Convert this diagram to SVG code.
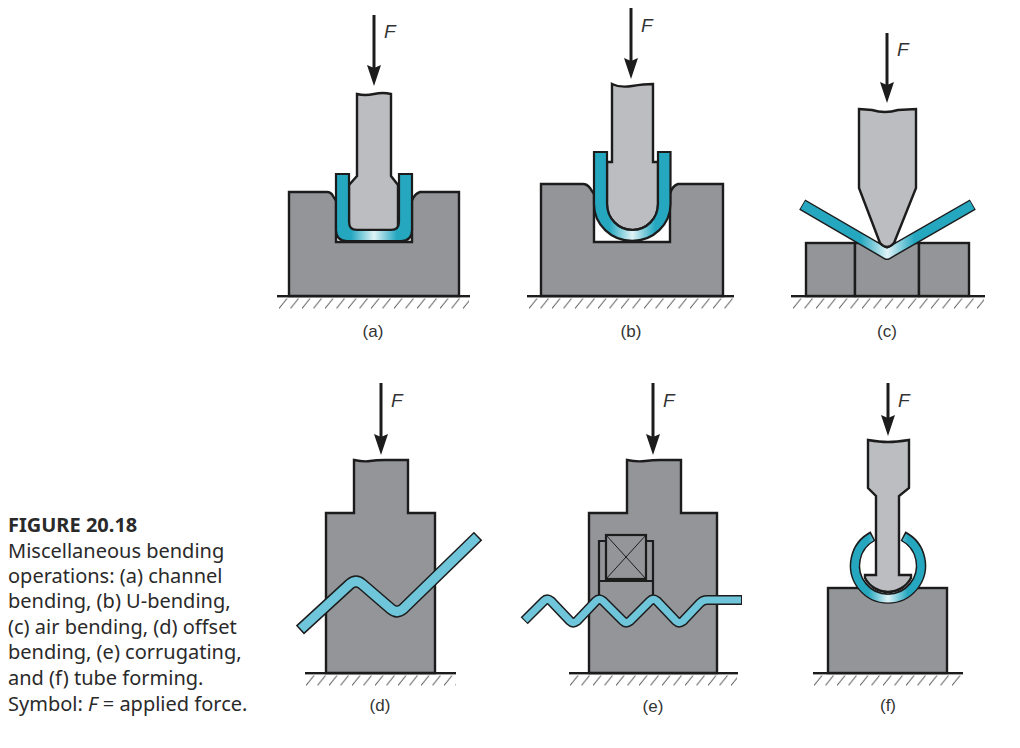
<svg xmlns="http://www.w3.org/2000/svg" width="1020" height="748" viewBox="0 0 1020 748">
<style>
.punch{fill:#bcbdc0;stroke:#1c1c1c;stroke-width:2.4;stroke-linejoin:miter}
.die{fill:#939598;stroke:#1c1c1c;stroke-width:2.4;stroke-linejoin:miter}
.thin{fill:none;stroke:#1c1c1c;stroke-width:1}
.thick{fill:none;stroke:#1c1c1c;stroke-width:2.2}
.partfill{stroke:#1c1c1c;stroke-width:2.2;fill:url(#wide)}
.edge{fill:none;stroke:#1c1c1c;stroke-linejoin:round}
.core{fill:none;stroke-linejoin:round}
.arrow{stroke:#1c1c1c;stroke-width:3;marker-end:url(#head)}
.force{font:italic 19px "Liberation Sans",Arial,sans-serif;fill:#333}
.label{font:17px "Liberation Sans",Arial,sans-serif;fill:#333;text-anchor:middle}
.cap{font:20px "Noto Sans",sans-serif;fill:#2a2a2a}
.captitle{font:bold 20px "Noto Sans",sans-serif;fill:#2a2a2a}
</style>
<defs>
<linearGradient id="wide" x1="0" x2="1" y1="0" y2="0"><stop offset=".2" stop-color="#25a7c0"/><stop offset=".5" stop-color="#dff3f7"/><stop offset=".8" stop-color="#25a7c0"/></linearGradient>
<linearGradient id="narrow" x1="0" x2="1" y1="0" y2="0"><stop offset=".34" stop-color="#25a7c0"/><stop offset=".5" stop-color="#dff3f7"/><stop offset=".66" stop-color="#25a7c0"/></linearGradient>
<pattern id="hatch" patternUnits="userSpaceOnUse" width="11.5" height="12"><path d="M0,11.5 L8,1.5" stroke="#555" stroke-width="1" fill="none"/></pattern>
<marker id="head" markerUnits="userSpaceOnUse" markerWidth="22" markerHeight="16" viewBox="0 0 22 16" refX="10" refY="8" orient="auto"><path d="M0,1 L21,8 L0,15 L3,8 Z" fill="#1c1c1c"/></marker>
</defs>
<rect width="1020" height="748" fill="#fff"/>

<g id="connectors">
<line class="arrow" x1="374" y1="15" x2="374" y2="75"/>
<line class="arrow" x1="631" y1="8" x2="631" y2="68"/>
<line class="arrow" x1="887" y1="33" x2="887" y2="92"/>
<line class="arrow" x1="381" y1="383" x2="381" y2="444"/>
<line class="arrow" x1="653" y1="383" x2="653" y2="444"/>
<line class="arrow" x1="888" y1="383" x2="888" y2="425"/>
</g>

<g id="fig-a">
<path class="die" d="M289,192 H327 Q331,192 333,196 L336,201 V242 H412 V201 Q414,194 420,192 H459 V296 H289 Z"/>
<path class="punch" d="M357,94 Q365,96 374,94 T391,94 V176 L398,185 V227 Q398,230 395,230 H352 Q349,230 349,227 V185 L357,176 Z"/>
<path class="partfill" d="M336,174 H349 V222 Q349,230 357,230 H391 Q399,230 399,222 V174 H412 V230 Q412,241 401,241 H347 Q336,241 336,230 Z"/>
<rect x="277" y="295" width="193" height="2.4" fill="#1c1c1c"/>
<g transform="translate(279,297)"><rect width="190" height="12" fill="url(#hatch)"/></g>
<text class="force" x="384" y="38">F</text>
<text class="label" x="373" y="337">(a)</text>
</g>

<g id="fig-b">
<path class="die" d="M541,184 H583 Q587,184 590,188 L594,194 V242 H670 V194 Q672,186 678,184 H723 V296 H541 Z"/>
<path class="punch" d="M612,84 Q620,88 632,86 T653,84 V162 H658 V204 A25.5,26 0 0 1 607,204 V162 H612 Z"/>
<path class="partfill" d="M594,152 H607 V204 A25.5,26 0 0 0 658,204 V152 H670.5 V204 A38.25,37 0 0 1 594,204 Z"/>
<rect x="527" y="295" width="207" height="2.4" fill="#1c1c1c"/>
<g transform="translate(529,297)"><rect width="204" height="12" fill="url(#hatch)"/></g>
<text class="force" x="641" y="32">F</text>
<text class="label" x="631" y="337">(b)</text>
</g>

<g id="fig-c">
<rect class="die" x="806" y="243" width="49" height="53"/>
<rect class="die" x="855" y="243" width="64" height="53"/>
<rect class="die" x="919" y="243" width="50" height="53"/>
<path class="edge" stroke-width="12" d="M802.2,204.6 L887,254 L972.8,204.6"/>
<path class="core" stroke="url(#narrow)" stroke-width="9" d="M803,205 L887,254 L972,205"/>
<path class="punch" d="M859,109 L872,110 Q885,114 898,110 L916,109 V188 L894,243 Q887,251 880,243 L859,188 Z"/>
<rect x="791" y="295" width="194" height="2.4" fill="#1c1c1c"/>
<g transform="translate(793,297)"><rect width="191" height="12" fill="url(#hatch)"/></g>
<text class="force" x="897" y="56">F</text>
<text class="label" x="887" y="337">(c)</text>
</g>

<g id="fig-d">
<path class="die" d="M354,460 Q364,462 370,461 T385,460 H408 V513 H435 V673 H326 V513 H354 Z"/>
<path class="edge" stroke-width="12" d="M299.9,630 L350,584 Q356,579 362,584 L391,609 Q397,614 403,609 L478.1,536"/>
<path class="core" stroke="#6fc5d9" stroke-width="9" d="M301,629 L350,584 Q356,579 362,584 L391,609 Q397,614 403,609 L477,537"/>
<rect x="305" y="672" width="151" height="2.4" fill="#1c1c1c"/>
<g transform="translate(306,674)"><rect width="150" height="12" fill="url(#hatch)"/></g>
<text class="force" x="391" y="407">F</text>
<text class="label" x="380" y="711">(d)</text>
</g>

<g id="fig-e">
<path class="die" d="M627,460 Q637,462 645,461 T660,460 H681 V513 H717 V673 H589 V513 H627 Z"/>
<rect class="thick" x="606" y="535" width="40" height="44"/>
<path class="thin" d="M606,535 L646,579 M646,535 L606,579"/>
<path class="thick" d="M599,597 V541 H606 M646,541 H653 V597 M599,581 H653"/>
<path class="edge" stroke-width="10" d="M524.2,620.8 L544,601 Q547,598 551,601 L570,621 Q573,624 577,621 L596,601 Q599,598 603,601 L623,621 Q626,624 630,621 L650,601 Q653,598 657,601 L676,621 Q679,624 683,621 L700,603 Q703,600 707,600 L742,600"/>
<path class="core" stroke="#6fc5d9" stroke-width="7" d="M525,620 L544,601 Q547,598 551,601 L570,621 Q573,624 577,621 L596,601 Q599,598 603,601 L623,621 Q626,624 630,621 L650,601 Q653,598 657,601 L676,621 Q679,624 683,621 L700,603 Q703,600 707,600 L741,600"/>
<rect x="569" y="672" width="169" height="2.4" fill="#1c1c1c"/>
<g transform="translate(570,674)"><rect width="167" height="12" fill="url(#hatch)"/></g>
<text class="force" x="663" y="407">F</text>
<text class="label" x="653" y="712">(e)</text>
</g>

<g id="fig-f">
<rect class="die" x="828" y="588" width="119" height="85"/>
<circle cx="888" cy="566" r="30" fill="#fff"/>
<path class="punch" d="M868,440 Q880,442 888,442 T909,440 V488 L899,496 V575 H911 V578 A26,26 0 0 1 865,578 V575 H876 V496 L868,488 Z"/>
<path class="edge" stroke-width="10.5" d="M873,536 A33,33 0 1 0 903,536"/>
<path class="core" stroke="url(#wide)" stroke-width="7.5" d="M871.8,537 A33,33 0 1 0 904.2,537"/>
<rect x="813" y="672" width="150" height="2.4" fill="#1c1c1c"/>
<g transform="translate(814,674)"><rect width="148" height="12" fill="url(#hatch)"/></g>
<text class="force" x="898" y="407">F</text>
<text class="label" x="888" y="711">(f)</text>
</g>

<g id="caption">
<text class="captitle" x="8" y="532">FIGURE 20.18</text>
<text class="cap" x="8" y="558">Miscellaneous bending</text>
<text class="cap" x="8" y="583">operations: (a) channel</text>
<text class="cap" x="8" y="608">bending, (b) U-bending,</text>
<text class="cap" x="8" y="634">(c) air bending, (d) offset</text>
<text class="cap" x="8" y="659">bending, (e) corrugating,</text>
<text class="cap" x="8" y="685">and (f) tube forming.</text>
<text class="cap" x="8" y="711">Symbol: <tspan font-style="italic">F</tspan> = applied force.</text>
</g>
</svg>
